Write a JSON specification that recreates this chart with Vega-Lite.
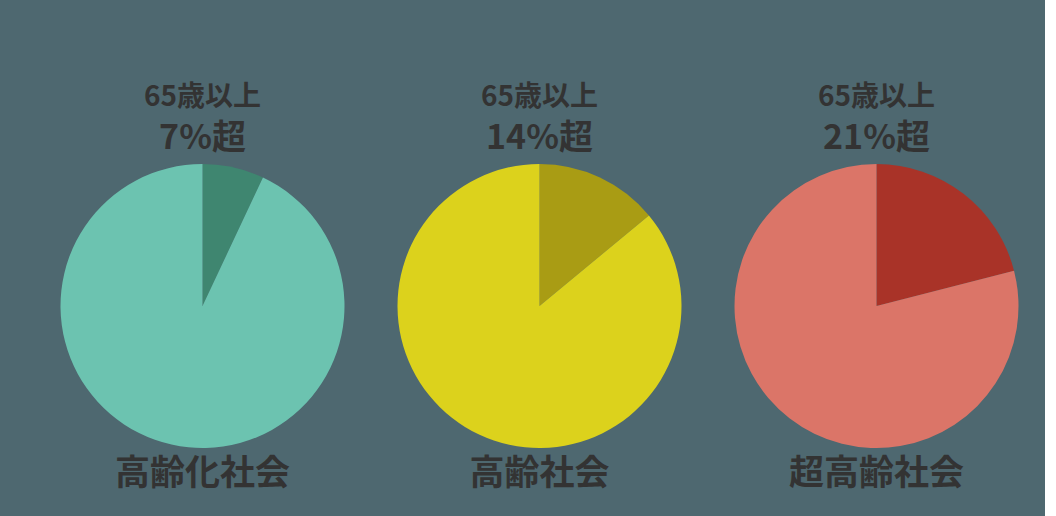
{
  "$schema": "https://vega.github.io/schema/vega-lite/v6.json",
  "background": "#4e6870",
  "padding": {"left": 34, "top": 84, "right": 0, "bottom": 0},
  "data": {
    "values": [
      {"group": "高齢化社会", "part": "65歳以上", "slice": "高齢化社会/65歳以上", "value": 7, "head": "65歳以上", "pct": "7%超"},
      {"group": "高齢化社会", "part": "65歳未満", "slice": "高齢化社会/65歳未満", "value": 93, "head": "65歳以上", "pct": "7%超"},
      {"group": "高齢社会", "part": "65歳以上", "slice": "高齢社会/65歳以上", "value": 14, "head": "65歳以上", "pct": "14%超"},
      {"group": "高齢社会", "part": "65歳未満", "slice": "高齢社会/65歳未満", "value": 86, "head": "65歳以上", "pct": "14%超"},
      {"group": "超高齢社会", "part": "65歳以上", "slice": "超高齢社会/65歳以上", "value": 21, "head": "65歳以上", "pct": "21%超"},
      {"group": "超高齢社会", "part": "65歳未満", "slice": "超高齢社会/65歳未満", "value": 79, "head": "65歳以上", "pct": "21%超"}
    ]
  },
  "facet": {
    "column": {
      "field": "group",
      "type": "nominal",
      "sort": ["高齢化社会", "高齢社会", "超高齢社会"],
      "header": {"labels": false, "title": null}
    }
  },
  "spacing": 0,
  "spec": {
    "width": 337,
    "height": 426,
    "layer": [
      {
        "mark": {"type": "arc", "radius": 142, "stroke": null},
        "encoding": {
          "theta": {"field": "value", "type": "quantitative", "stack": true},
          "order": {"field": "part", "sort": "ascending"},
          "color": {
            "field": "slice",
            "type": "nominal",
            "legend": null,
            "scale": {
              "domain": ["高齢化社会/65歳以上", "高齢化社会/65歳未満", "高齢社会/65歳以上", "高齢社会/65歳未満", "超高齢社会/65歳以上", "超高齢社会/65歳未満"],
              "range": ["#3f8670", "#6cc3b0", "#a99c14", "#dcd21c", "#a93328", "#db7568"]
            }
          }
        }
      },
      {
        "transform": [{"filter": "datum.part == '65歳以上'"}],
        "mark": {"type": "text", "dy": -208, "font": "Noto Sans CJK JP", "fontWeight": "bold", "fontSize": 28, "color": "#333333"},
        "encoding": {"text": {"field": "head"}}
      },
      {
        "transform": [{"filter": "datum.part == '65歳以上'"}],
        "mark": {"type": "text", "dy": -167, "font": "Noto Sans CJK JP", "fontWeight": "bold", "fontSize": 34, "color": "#333333"},
        "encoding": {"text": {"field": "pct"}}
      },
      {
        "transform": [{"filter": "datum.part == '65歳以上'"}],
        "mark": {"type": "text", "dy": 168, "font": "Noto Sans CJK JP", "fontWeight": "bold", "fontSize": 35, "color": "#333333"},
        "encoding": {"text": {"field": "group"}}
      }
    ]
  },
  "config": {"view": {"stroke": null}}
}
